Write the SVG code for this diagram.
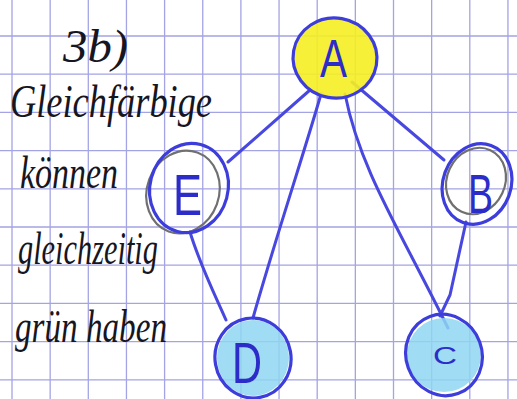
<svg xmlns="http://www.w3.org/2000/svg" width="517" height="399" viewBox="0 0 517 399">
<style>
.grid{stroke:#a4a4e4;stroke-width:1.3;fill:none}
.edge{stroke:#4848e0;stroke-width:3;fill:none;stroke-linecap:round}
.ring{stroke:#3d3ddc;stroke-width:3.2;fill:none}
.inner{stroke:#707070;stroke-width:2.2;fill:none}
.lbl{font-family:"Liberation Sans",Arial,sans-serif;fill:#2c2cc8}
.hand{font-family:"Liberation Serif","Times New Roman",serif;font-style:italic;fill:#161622}
</style>
<rect width="517" height="399" fill="#ffffff"/>
<g id="grid" class="grid">
<path d="M12,0V399M50.15,0V399M88.3,0V399M126.45,0V399M164.6,0V399M202.75,0V399M240.9,0V399M279.05,0V399M317.2,0V399M355.35,0V399M393.5,0V399M431.65,0V399M469.8,0V399M507.95,0V399"/>
<path d="M0,36H517M0,74.2H517M0,112.4H517M0,150.6H517M0,188.8H517M0,227H517M0,265.2H517M0,303.4H517M0,341.6H517M0,379.8H517"/>
</g>
<g id="notes" class="hand">
<text x="63" y="62" font-size="46" textLength="65" lengthAdjust="spacingAndGlyphs">3b)</text>
<text x="10" y="117" font-size="46" textLength="202" lengthAdjust="spacingAndGlyphs">Gleichfärbige</text>
<text x="20" y="188" font-size="46" textLength="98" lengthAdjust="spacingAndGlyphs">können</text>
<text x="18" y="264" font-size="46" textLength="140" lengthAdjust="spacingAndGlyphs">gleichzeitig</text>
<text x="15" y="342" font-size="46" textLength="152" lengthAdjust="spacingAndGlyphs">grün haben</text>
</g>
<g id="connectors">
<path class="edge" d="M228,162 L310,90"/>
<path class="edge" d="M352,82 L444,160"/>
<path class="edge" d="M321,94 C305,150 275,240 253,318"/>
<path class="edge" d="M345,94 C360,170 400,230 448,328"/>
<path class="edge" d="M190,232 C200,265 215,295 226,320"/>
<path class="edge" d="M466,222 L450,295 L440,316"/>
</g>
<g id="node-A">
<ellipse cx="335" cy="58" rx="42" ry="40" fill="#f6ee22" fill-opacity="0.9"/>
<ellipse class="ring" cx="335" cy="58" rx="42" ry="40" transform="rotate(10 335 58)"/>
<text class="lbl" x="320" y="77" font-size="54" textLength="27" lengthAdjust="spacingAndGlyphs">A</text>
</g>
<g id="node-E">
<ellipse class="inner" cx="183" cy="192" rx="36" ry="42" transform="rotate(20 183 192)"/>
<ellipse class="ring" cx="189" cy="188" rx="39" ry="45" transform="rotate(15 189 188)"/>
<text class="lbl" x="173" y="215" font-size="58" textLength="29" lengthAdjust="spacingAndGlyphs">E</text>
</g>
<g id="node-B">
<ellipse class="inner" cx="476" cy="181" rx="29" ry="34" transform="rotate(25 476 181)"/>
<ellipse class="ring" cx="477" cy="184" rx="34" ry="41" transform="rotate(20 477 184)"/>
<text class="lbl" x="468" y="213" font-size="56" textLength="25" lengthAdjust="spacingAndGlyphs">B</text>
</g>
<g id="node-D">
<ellipse cx="253" cy="358" rx="36" ry="38" fill="#8fd6f2" fill-opacity="0.85"/>
<ellipse class="ring" cx="253" cy="358" rx="38" ry="40" transform="rotate(-10 253 358)"/>
<text class="lbl" x="232" y="383" font-size="58" textLength="30" lengthAdjust="spacingAndGlyphs">D</text>
</g>
<g id="node-C">
<ellipse cx="444" cy="355" rx="37" ry="37" fill="#8fd6f2" fill-opacity="0.85"/>
<ellipse class="ring" cx="444" cy="355" rx="38" ry="41" transform="rotate(-20 444 355)"/>
<text class="lbl" x="433" y="364" font-size="24" textLength="24" lengthAdjust="spacingAndGlyphs">C</text>
</g>
</svg>
